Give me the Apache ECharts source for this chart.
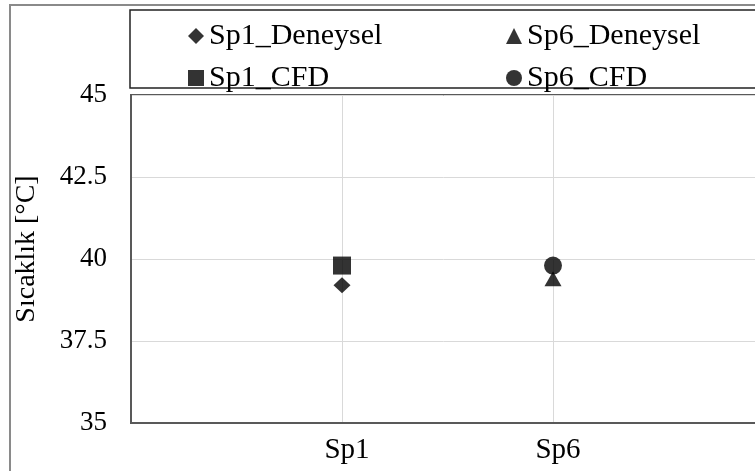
<!DOCTYPE html>
<html>
<head>
<meta charset="utf-8">
<script src="https://cdn.jsdelivr.net/npm/echarts@6/dist/echarts.min.js"></script>
<style>html,body{margin:0;padding:0;background:#fff}#c{width:755px;height:471px}</style>
</head>
<body>
<div id="c"></div>
<script>
var categories = ['Sp1', 'Sp6'];
var seriesNames = ['Sp1_Deneysel', 'Sp6_Deneysel', 'Sp1_CFD', 'Sp6_CFD'];
var sp1Deneysel = [39.2];
var sp6Deneysel = [39.4];
var sp1CFD = [39.8];
var sp6CFD = [39.8];
var yTicks = [35, 37.5, 40, 42.5, 45];
var yTitle = 'Sıcaklık [°C]';

var FONT = 'Liberation Serif';
var diamond = 'path://M0,-1 L1,0 L0,1 L-1,0 Z';

function pts(catIndex, vals) {
  return vals.map(function (v) { return [catIndex + 1, v]; });
}

var legendText = {fontFamily: FONT, fontSize: 30, color: '#000', lineHeight: 32};

var chart = echarts.init(document.getElementById('c'), null, {renderer: 'canvas'});
chart.setOption({
  animation: false,
  backgroundColor: '#fff',
  graphic: [
    {type: 'rect', shape: {x: 10, y: 5, width: 800, height: 520}, style: {fill: 'none', stroke: '#8a8a8a', lineWidth: 2}, z: 0},
    {type: 'rect', shape: {x: 130, y: 10, width: 700, height: 78}, style: {fill: 'none', stroke: '#222', lineWidth: 1.5}, z: 0},
    {type: 'text', x: 27, y: 249, rotation: Math.PI / 2,
      style: {text: yTitle, fontFamily: FONT, fontSize: 28, fill: '#000', align: 'center', verticalAlign: 'middle'}}
  ],
  legend: [
    {
      orient: 'vertical', left: 183, top: 15,
      data: [
        {name: seriesNames[0], icon: diamond},
        {name: seriesNames[2], icon: 'rect'}
      ],
      itemWidth: 16, itemHeight: 16, itemGap: 10,
      textStyle: legendText
    },
    {
      orient: 'vertical', left: 501, top: 15,
      data: [
        {name: seriesNames[1], icon: 'triangle'},
        {name: seriesNames[3], icon: 'circle'}
      ],
      itemWidth: 16, itemHeight: 16, itemGap: 10,
      textStyle: legendText
    }
  ],
  grid: {left: 131, top: 95, width: 633, bottom: 48, show: true, borderColor: '#595959', borderWidth: 2,
    containLabel: false, outerBoundsMode: 'none'},
  xAxis: {
    type: 'value', min: 0, max: 3, interval: 1,
    axisLine: {show: true, lineStyle: {color: '#595959', width: 2}},
    axisTick: {show: false},
    splitLine: {show: true, lineStyle: {color: '#d9d9d9', width: 1}},
    axisLabel: {
      fontFamily: FONT, fontSize: 29, color: '#000', margin: 13, padding: [0, 0, 0, 10],
      formatter: function (v) { return (v >= 1 && v <= categories.length) ? categories[v - 1] : ''; }
    }
  },
  yAxis: {
    type: 'value', min: yTicks[0], max: yTicks[yTicks.length - 1], interval: 2.5,
    axisLine: {show: true, lineStyle: {color: '#595959', width: 2}},
    axisTick: {show: false},
    splitLine: {show: true, lineStyle: {color: '#d9d9d9', width: 1}},
    axisLabel: {fontFamily: FONT, fontSize: 27, color: '#000', margin: 24,
      formatter: function (v) { return String(v); }}
  },
  series: [
    {name: seriesNames[0], type: 'scatter', symbol: diamond, symbolSize: [17, 16], itemStyle: {color: '#000'}, data: pts(0, sp1Deneysel), z: 3},
    {name: seriesNames[1], type: 'scatter', symbol: 'triangle', symbolSize: [17, 15], itemStyle: {color: '#000'}, data: pts(1, sp6Deneysel), z: 3},
    {name: seriesNames[2], type: 'scatter', symbol: 'rect', symbolSize: 18, itemStyle: {color: '#000'}, data: pts(0, sp1CFD), z: 4},
    {name: seriesNames[3], type: 'scatter', symbol: 'circle', symbolSize: 18, itemStyle: {color: '#000'}, data: pts(1, sp6CFD), z: 4}
  ]
});
</script>
</body>
</html>
